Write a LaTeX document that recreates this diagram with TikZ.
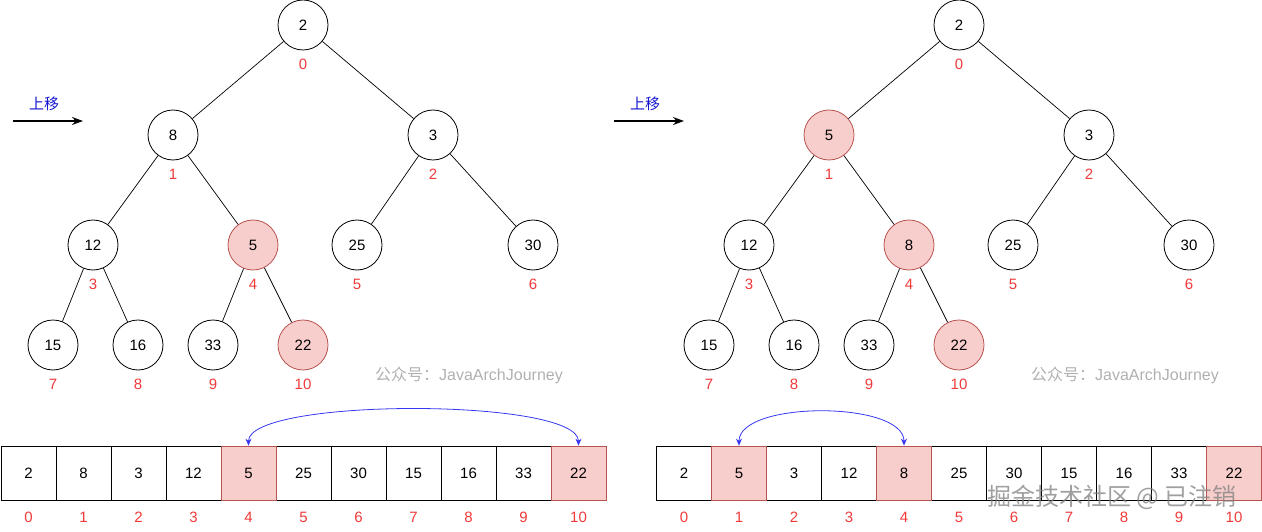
\documentclass[tikz,border=0pt]{standalone}
\usepackage{fontspec}
\setmainfont{Liberation Sans}
\newfontfamily\cjk{Noto Sans CJK SC}
\usetikzlibrary{arrows.meta}
\definecolor{pinkfill}{HTML}{F8CECC}
\definecolor{pinkline}{HTML}{B85450}
\definecolor{idxred}{HTML}{F03A3A}
\definecolor{arrblue}{HTML}{3737F0}
\definecolor{txtblue}{HTML}{1515D0}
\definecolor{wmgray}{HTML}{B0B0B0}
\begin{document}
\begin{tikzpicture}[x=1pt,y=-1pt,
  hnode/.style={circle,draw,minimum size=50pt,inner sep=0pt,line width=0.8pt,font=\fontsize{15}{17}\selectfont},
  norm/.style={fill=white},
  hot/.style={fill=pinkfill,draw=pinkline},
  idx/.style={text=idxred,font=\fontsize{15}{17}\selectfont,inner sep=0pt},
  cell/.style={rectangle,draw,minimum width=55pt,minimum height=54pt,inner sep=0pt,line width=0.8pt,font=\fontsize{15}{17}\selectfont},
  edge/.style={line width=0.7pt},
  swap/.style={arrblue,line width=0.8pt,{Stealth[length=7pt,width=6pt]}-{Stealth[length=7pt,width=6pt]}},
  move/.style={line width=1.4pt,-{Stealth[length=11pt,width=8pt]}},
  movelbl/.style={text=txtblue,font=\cjk\fontsize{15}{17}\selectfont,inner sep=0pt},
  wm/.style={text=wmgray,font=\fontsize{16}{18}\selectfont,inner sep=0pt}
]
\useasboundingbox (0,0) rectangle (1262,532);
% ---------- left tree ----------
\foreach \i/\x/\y/\v/\s in {0/303/25/2/norm,1/173/135/8/norm,2/433/135/3/norm,3/93/245/12/norm,4/253/245/5/hot,5/357/245/25/norm,6/533/245/30/norm,7/53/345/15/norm,8/138/345/16/norm,9/213/345/33/norm,10/303/345/22/hot}{
  \node[hnode,\s] (L\i) at (\x,\y) {\v};
  \node[idx] (Li\i) at (\x,\y+39) {\i};
}
\foreach \a/\b in {0/1,0/2,1/3,1/4,2/5,2/6,3/7,3/8,4/9,4/10}
  \draw[edge] (L\a) -- (L\b);
% ---------- right tree ----------
\foreach \i/\x/\y/\v/\s in {0/959/25/2/norm,1/829/135/5/hot,2/1089/135/3/norm,3/749/245/12/norm,4/909/245/8/hot,5/1013/245/25/norm,6/1189/245/30/norm,7/709/345/15/norm,8/794/345/16/norm,9/869/345/33/norm,10/959/345/22/hot}{
  \node[hnode,\s] (R\i) at (\x,\y) {\v};
  \node[idx] (Ri\i) at (\x,\y+39) {\i};
}
\foreach \a/\b in {0/1,0/2,1/3,1/4,2/5,2/6,3/7,3/8,4/9,4/10}
  \draw[edge] (R\a) -- (R\b);
% ---------- move arrows ----------
\coordinate (LmA) at (13,121); \coordinate (LmB) at (83,121);
\draw[move] (LmA) -- (LmB);
\node[movelbl] (Lml) at (44,104) {上移};
\coordinate (RmA) at (614,121); \coordinate (RmB) at (684,121);
\draw[move] (RmA) -- (RmB);
\node[movelbl] (Rml) at (645,104) {上移};
% ---------- watermarks ----------
\node[wm] (Lwm) at (469,375) {{\cjk 公众号：}JavaArchJourney};
\node[wm] (Rwm) at (1125,375) {{\cjk 公众号：}JavaArchJourney};
% ---------- left array ----------
\foreach \i/\v/\s in {0/2/norm,1/8/norm,2/3/norm,3/12/norm,5/25/norm,6/30/norm,7/15/norm,8/16/norm,9/33/norm,4/5/hot,10/22/hot}{
  \node[cell,\s] (LA\i) at (28.5+55*\i,473) {\v};
  \node[idx] (LAi\i) at (28.5+55*\i,517) {\i};
}
\draw[swap] (LA4.north) .. controls +(0,-48) and +(0,-48) .. (LA10.north);
% ---------- right array ----------
\foreach \i/\v/\s in {0/2/norm,2/3/norm,3/12/norm,5/25/norm,6/30/norm,7/15/norm,8/16/norm,9/33/norm,1/5/hot,4/8/hot,10/22/hot}{
  \node[cell,\s] (RA\i) at (684+55*\i,473) {\v};
  \node[idx] (RAi\i) at (684+55*\i,517) {\i};
}
\draw[swap] (RA1.north) .. controls +(0,-45) and +(0,-45) .. (RA4.north);
% ---------- site watermark ----------
\node[text=gray,opacity=0.75,font=\cjk\fontsize{24}{26}\selectfont,inner sep=0pt] (site) at (1112,497) {掘金技术社区 @ 已注销};
\end{tikzpicture}
\end{document}
